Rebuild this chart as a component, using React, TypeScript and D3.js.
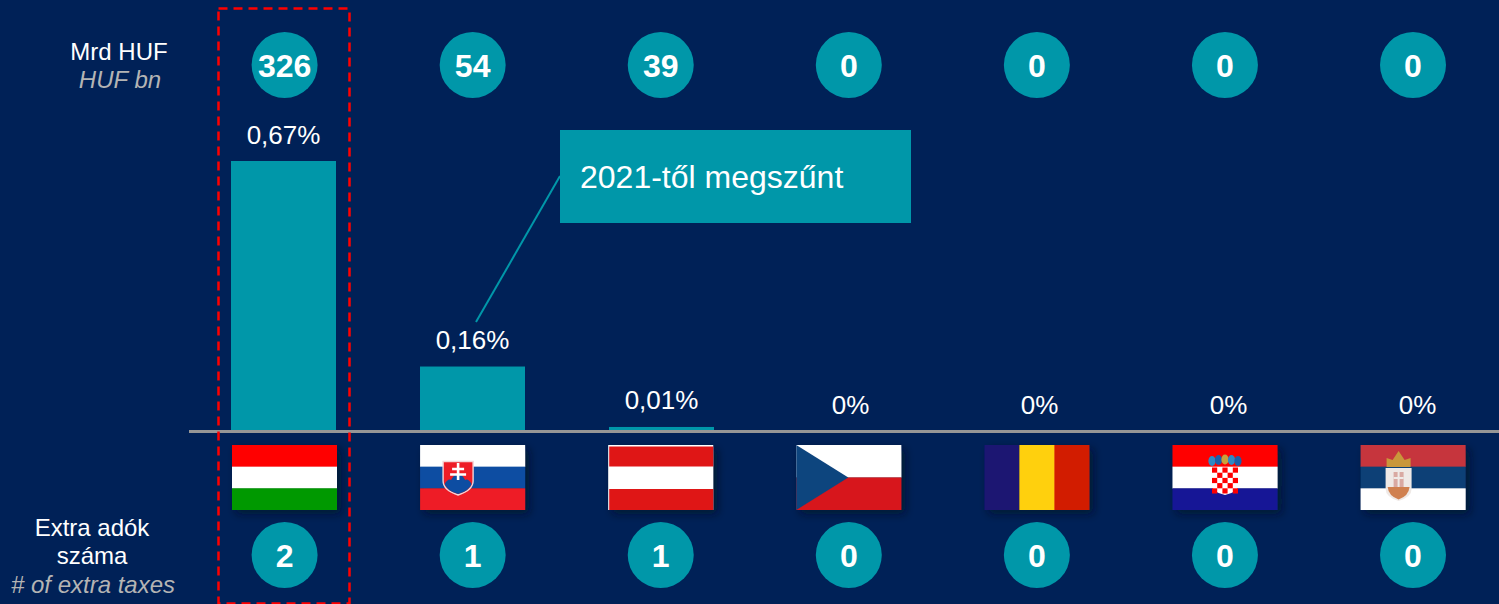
import React from "react";
import * as d3 from "d3";

const W = 1499, H = 604;
const countries = ["HU", "SK", "AT", "CZ", "RO", "HR", "RS"];
const amountsHuf = [326, 54, 39, 0, 0, 0, 0];
const shareLabels = ["0,67%", "0,16%", "0,01%", "0%", "0%", "0%", "0%"];
const shareValues = [0.67, 0.16, 0.01, 0, 0, 0, 0];
const extraTaxes = [2, 1, 1, 0, 0, 0, 0];
const noteText = "2021-től megszűnt";

const BG = "#002157";
const TEAL = "#0097A9";
const FONT = "'Liberation Sans', Arial, sans-serif";
const FW = 105, FH = 65;

const Stripes = ({ c }: { c: string[] }) => (
  <>
    {c.map((col, i) => (
      <rect key={i} x={0} y={(i * FH) / 3} width={FW} height={FH / 3 + (i < 2 ? 0.3 : 0)} fill={col} />
    ))}
  </>
);

const checks = d3.range(25);
const crownColors = ["#2E89C4", "#1F5FA8", "#C9A23A", "#2E89C4", "#1F5FA8"];

function Flag({ code }: { code: string }) {
  switch (code) {
    case "HU":
      return <Stripes c={["#FF0000", "#FFFFFF", "#009900"]} />;
    case "SK":
      return (
        <>
          <Stripes c={["#FFFFFF", "#0B4EA2", "#EE1C25"]} />
          <path d="M23 16.500H53V36Q53 45 38 50Q23 45 23 36Z" fill="#EE1C25" stroke="#F3D5D8" strokeWidth={1.4} />
          <path d="M24.500 39Q28 33 31 35Q34 29 38 30Q42 29 45 35Q48 33 51.500 39Q49 46 38 49Q27 46 24.500 39Z" fill="#0B4EA2" />
          <path d="M38 18V35M32 24H44M30 29.500H46" stroke="#FFFFFF" strokeWidth={2.6} fill="none" />
        </>
      );
    case "AT":
      return (
        <>
          <rect width={FW} height={FH} fill="#FFFFFF" />
          <rect x={1} y={1.5} width={FW - 1} height={20} fill="#DF1219" />
          <rect x={1} y={44} width={FW - 1} height={21} fill="#DF1219" />
        </>
      );
    case "CZ":
      return (
        <>
          <rect width={FW} height={FH / 2} fill="#FFFFFF" />
          <rect y={FH / 2} width={FW} height={FH / 2} fill="#D7141A" />
          <path d={`M0 0L52 ${FH / 2}L0 ${FH}Z`} fill="#11457E" />
        </>
      );
    case "RO":
      return (
        <>
          <rect width={FW / 3} height={FH} fill="#1A1672" />
          <rect x={FW / 3} width={FW / 3 + 1} height={FH} fill="#FFD010" />
          <rect x={(2 * FW) / 3} width={FW / 3} height={FH} fill="#D21A05" />
        </>
      );
    case "HR":
      return (
        <>
          <Stripes c={["#FF0000", "#FFFFFF", "#171796"]} />
          {crownColors.map((col, i) => (
            <ellipse key={i} cx={39.5 + i * 6.5} cy={16 - (i === 2 ? 1.5 : i === 1 || i === 3 ? 1 : 0)} rx={3.6} ry={5} fill={col} />
          ))}
          <path d="M39 22H66V40Q66 47 52.500 50Q39 47 39 40Z" fill="#FFFFFF" />
          {checks.map((i) => {
            const col = i % 5, row = Math.floor(i / 5);
            return (col + row) % 2 === 0 ? (
              <rect key={i} x={39.5 + col * 5.2} y={22.5 + row * 5.2} width={5.2} height={5.2} fill="#FF0000" />
            ) : null;
          })}
        </>
      );
    default:
      return (
        <>
          <Stripes c={["#C6363C", "#0C4076", "#FFFFFF"]} />
          <path d="M26 22L26 13L32 15L38 6L44 15L50 13L50 22Z" fill="#C9973A" />
          <path d="M25 23H51V44Q51 52 38 56Q25 52 25 44Z" fill="#EFE9E6" />
          <path d="M33 27H43V42H33Z" fill="#D9A9A2" />
          <path d="M38 27V42M33 33H43" stroke="#EFE9E6" strokeWidth={2} />
          <path d="M27 42H49Q48 51 38 54.500Q28 51 27 42Z" fill="#D08050" />
        </>
      );
  }
}

const Badge = ({ cx, cy, value }: { cx: number; cy: number; value: number }) => (
  <g>
    <circle cx={cx} cy={cy} r={33} fill={TEAL} />
    <text x={cx} y={cy + 11.500} textAnchor="middle" fontSize={32} fontWeight={700} fill="#FFFFFF" fontFamily={FONT}>
      {value}
    </text>
  </g>
);

export default function App() {
  const baseY = 431;
  const xBar = d3.scaleBand<string>().domain(countries).range([189, 189 + 189 * 7]).paddingInner(84 / 189).paddingOuter(42 / 189);
  const y = d3.scaleLinear().domain([0, 0.67]).range([baseY, 161]);
  const xBadge = d3.scalePoint<string>().domain(countries).range([284.6, 1413]);
  const xFlag = d3.scalePoint<string>().domain(countries).range([232, 1360.6]);

  return (
    <svg width={W} height={H} viewBox={`0 0 ${W} ${H}`} style={{ position: "fixed", left: 0, top: 0, display: "block" }}>
      <defs>
        <filter id="flagShadow" x="-15%" y="-20%" width="135%" height="150%">
          <feDropShadow dx={4} dy={4} stdDeviation={4} floodColor="#000A20" floodOpacity={0.6} />
        </filter>
      </defs>
      <rect width={W} height={H} fill={BG} />

      {countries.map((c, i) => (
        <g key={c}>
          <rect
            x={xBar(c)}
            y={y(shareValues[i])}
            width={xBar.bandwidth()}
            height={baseY - y(shareValues[i])}
            fill={TEAL}
          />
          <text
            x={xBar(c)! + xBar.bandwidth() / 2}
            y={y(shareValues[i]) - 17.5}
            textAnchor="middle"
            fontSize={26}
            fill="#FFFFFF"
            fontFamily={FONT}
          >
            {shareLabels[i]}
          </text>
        </g>
      ))}

      <line x1={189} x2={W} y1={baseY + 0.5} y2={baseY + 0.5} stroke="#969696" strokeWidth={3} />

      <rect x={218.5} y={8.500} width={131} height={595} fill="none" stroke="#FF0000" strokeWidth={2.5} strokeDasharray="9 6" />

      {countries.map((c, i) => (
        <g key={c}>
          <Badge cx={xBadge(c)!} cy={65} value={amountsHuf[i]} />
          <Badge cx={xBadge(c)!} cy={555} value={extraTaxes[i]} />
        </g>
      ))}

      {countries.map((c) => (
        <g key={c} transform={`translate(${xFlag(c)},445)`} filter="url(#flagShadow)">
          <Flag code={c} />
        </g>
      ))}

      <rect x={560} y={130} width={351} height={93} fill={TEAL} />
      <line x1={560} y1={176} x2={476} y2={322} stroke={TEAL} strokeWidth={2} />
      <text x={580} y={188} fontSize={32} fill="#FFFFFF" fontFamily={FONT}>
        {noteText}
      </text>

      <g fontFamily={FONT} fontSize={24} textAnchor="middle">
        <text x={119} y={60} fill="#FFFFFF">Mrd HUF</text>
        <text x={120} y={88} fill="#B4B4B4" fontStyle="italic">HUF bn</text>
        <text x={92} y={536} fill="#FFFFFF">Extra adók</text>
        <text x={92} y={564} fill="#FFFFFF">száma</text>
        <text x={93} y={593} fill="#B4B4B4" fontStyle="italic">{"# of extra taxes"}</text>
      </g>
    </svg>
  );
}
